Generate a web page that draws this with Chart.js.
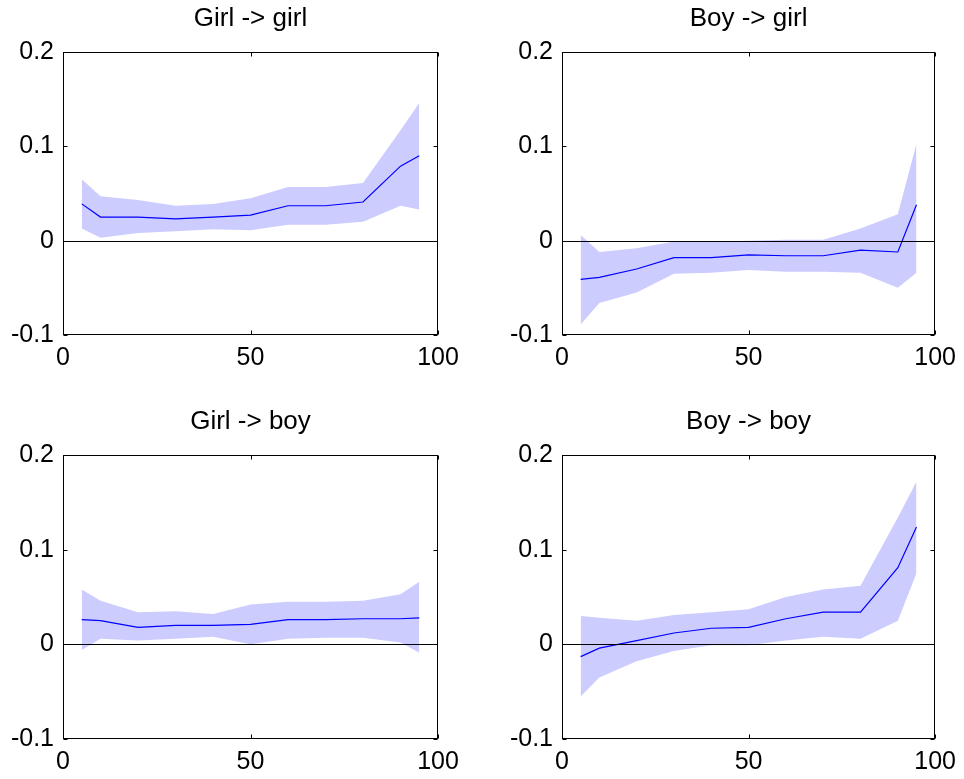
<!DOCTYPE html>
<html lang="en">
<head>
<meta charset="UTF-8">
<title>Girl / Boy transitions</title>
<style>
    body {
        margin: 0;
        background: #fff;
        width: 964px;
        height: 779px;
        position: relative;
        overflow: hidden;
    }
    canvas {
        position: absolute;
    }
</style>
</head>
<body>
<canvas id="c1"></canvas>
<canvas id="c2"></canvas>
<canvas id="c3"></canvas>
<canvas id="c4"></canvas>

<script src="https://cdn.jsdelivr.net/npm/chart.js"></script>
<script>
    // percentiles on the x axis
    const xPct = [5, 10, 20, 30, 40, 50, 60, 70, 80, 90, 95];
    const xTicks = [0, 50, 100];
    const yTicks = [-0.1, 0, 0.1, 0.2];

    const titles = ['Girl -> girl', 'Boy -> girl', 'Girl -> boy', 'Boy -> boy'];

    // Girl -> girl
    const girlGirlMean  = [0.039, 0.025, 0.025, 0.023, 0.025, 0.027, 0.037, 0.037, 0.041, 0.079, 0.090];
    const girlGirlUpper = [0.065, 0.047, 0.043, 0.037, 0.039, 0.045, 0.057, 0.057, 0.061, 0.117, 0.146];
    const girlGirlLower = [0.013, 0.003, 0.008, 0.010, 0.012, 0.011, 0.017, 0.017, 0.020, 0.037, 0.033];

    // Boy -> girl
    const boyGirlMean  = [-0.041, -0.039, -0.030, -0.018, -0.018, -0.015, -0.016, -0.016, -0.010, -0.012, 0.038];
    const boyGirlUpper = [0.006, -0.012, -0.008, -0.001, -0.001, 0.000, 0.001, 0.001, 0.013, 0.028, 0.103];
    const boyGirlLower = [-0.089, -0.066, -0.055, -0.035, -0.034, -0.031, -0.033, -0.033, -0.034, -0.050, -0.034];

    // Girl -> boy
    const girlBoyMean  = [0.026, 0.025, 0.018, 0.020, 0.020, 0.021, 0.026, 0.026, 0.027, 0.027, 0.028];
    const girlBoyUpper = [0.058, 0.046, 0.034, 0.035, 0.032, 0.042, 0.045, 0.045, 0.046, 0.053, 0.066];
    const girlBoyLower = [-0.006, 0.006, 0.004, 0.006, 0.008, 0.000, 0.006, 0.007, 0.007, 0.002, -0.009];

    // Boy -> boy
    const boyBoyMean  = [-0.013, -0.004, 0.004, 0.012, 0.017, 0.018, 0.027, 0.034, 0.034, 0.081, 0.124];
    const boyBoyUpper = [0.030, 0.028, 0.025, 0.031, 0.034, 0.037, 0.050, 0.058, 0.062, 0.134, 0.172];
    const boyBoyLower = [-0.055, -0.035, -0.018, -0.007, -0.001, -0.001, 0.004, 0.008, 0.006, 0.025, 0.075];

    const series = [
        [girlGirlMean, girlGirlUpper, girlGirlLower],
        [boyGirlMean, boyGirlUpper, boyGirlLower],
        [girlBoyMean, girlBoyUpper, girlBoyLower],
        [boyBoyMean, boyBoyUpper, boyBoyLower]
    ];

    // canvas placement and axis sizes for each panel
    const panels = [
        { left: 0,   top: 0,   w: 482, h: 390, yW: 63, padR: 44, titleTop: 3,  xH: 55 },
        { left: 482, top: 0,   w: 482, h: 390, yW: 80, padR: 27, titleTop: 3,  xH: 55 },
        { left: 0,   top: 390, w: 482, h: 389, yW: 63, padR: 44, titleTop: 16, xH: 40 },
        { left: 482, top: 390, w: 482, h: 389, yW: 80, padR: 27, titleTop: 16, xH: 40 }
    ];

    const font = { family: "'Liberation Sans', Arial, sans-serif", size: 25, weight: 'normal' };
    const titleFont = { family: "'Liberation Sans', Arial, sans-serif", size: 26, weight: 'normal' };
    const bandColor = 'rgb(204, 204, 255)';
    const lineColor = 'rgb(0, 0, 255)';

    const pts = arr => xPct.map((x, i) => ({ x: x, y: arr[i] }));

    // box, zero line and inward ticks like the MATLAB axes
    const matlabAxes = {
        id: 'matlabAxes',
        afterDatasetsDraw(chart) {
            const { ctx, chartArea: a, scales } = chart;
            const L = Math.round(a.left) + 0.5, R = Math.round(a.right) - 0.5;
            const T = Math.round(a.top) + 0.5, B = Math.round(a.bottom) - 0.5;
            const tl = 4;
            ctx.save();
            ctx.strokeStyle = '#000';
            ctx.lineWidth = 1;
            ctx.beginPath();
            const y0 = Math.round(scales.y.getPixelForValue(0)) + 0.5;
            ctx.moveTo(L, y0);
            ctx.lineTo(R, y0);
            xTicks.forEach(v => {
                const px = Math.round(scales.x.getPixelForValue(v)) + 0.5;
                ctx.moveTo(px, B); ctx.lineTo(px, B - tl);
                ctx.moveTo(px, T); ctx.lineTo(px, T + tl);
            });
            yTicks.forEach(v => {
                const py = Math.round(scales.y.getPixelForValue(v)) + 0.5;
                ctx.moveTo(L, py); ctx.lineTo(L + tl, py);
                ctx.moveTo(R, py); ctx.lineTo(R - tl, py);
            });
            ctx.stroke();
            ctx.strokeRect(L, T, R - L, B - T);
            ctx.restore();
        }
    };

    panels.forEach((p, k) => {
        const cv = document.getElementById('c' + (k + 1));
        cv.width = p.w;
        cv.height = p.h;
        cv.style.left = p.left + 'px';
        cv.style.top = p.top + 'px';
        const [mean, upper, lower] = series[k];

        new Chart(cv.getContext('2d'), {
            type: 'line',
            data: {
                datasets: [{
                    data: pts(upper),
                    fill: '+1',
                    backgroundColor: bandColor,
                    borderWidth: 0,
                    pointRadius: 0,
                    order: 2
                }, {
                    data: pts(lower),
                    fill: false,
                    borderWidth: 0,
                    pointRadius: 0,
                    order: 3
                }, {
                    data: pts(mean),
                    fill: false,
                    borderColor: lineColor,
                    borderWidth: 1.2,
                    pointRadius: 0,
                    tension: 0,
                    order: 0
                }]
            },
            options: {
                responsive: false,
                animation: false,
                devicePixelRatio: 1,
                layout: { padding: { left: 0, right: p.padR, top: 0, bottom: 0 } },
                plugins: {
                    legend: { display: false },
                    tooltip: { enabled: false },
                    title: {
                        display: true,
                        text: titles[k],
                        fullSize: false,
                        color: '#000',
                        font: titleFont,
                        lineHeight: 1.2,
                        padding: { top: p.titleTop, bottom: 17.8 }
                    }
                },
                scales: {
                    x: {
                        type: 'linear',
                        min: 0,
                        max: 100,
                        afterBuildTicks: s => { s.ticks = xTicks.map(v => ({ value: v })); },
                        afterFit: s => { s.height = p.xH; },
                        grid: { display: false, drawTicks: false },
                        border: { display: false },
                        ticks: { color: '#000', font: font, padding: 8, maxRotation: 0, callback: v => String(v) }
                    },
                    y: {
                        min: -0.1,
                        max: 0.2,
                        afterBuildTicks: s => { s.ticks = yTicks.map(v => ({ value: v })); },
                        afterFit: s => { s.width = p.yW; },
                        grid: { display: false, drawTicks: false },
                        border: { display: false },
                        ticks: { color: '#000', font: font, padding: 9, callback: v => String(+v.toFixed(1)) }
                    }
                }
            },
            plugins: [matlabAxes]
        });
    });
</script>
</body>
</html>
